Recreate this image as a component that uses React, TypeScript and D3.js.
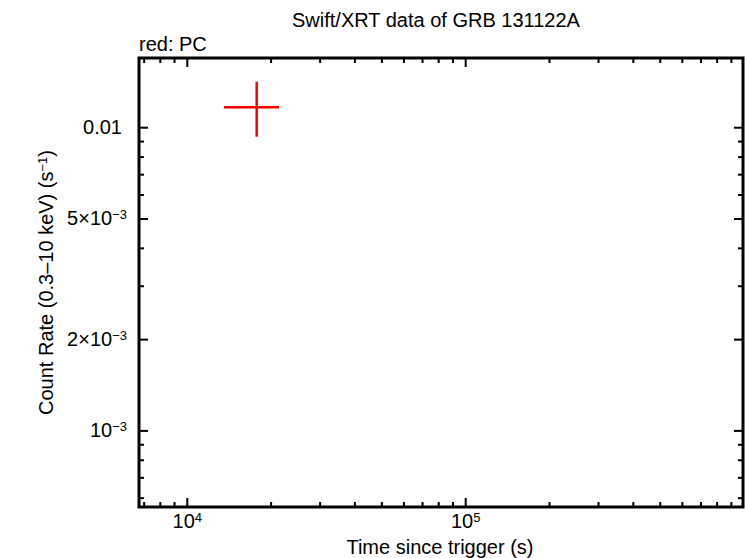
import React from "react";
import * as d3 from "d3";

// Swift/XRT PC-mode point (time in s, rate in counts/s)
const pcTime = [17755];
const pcTimeLow = [13546];
const pcTimeHigh = [21353];
const pcRate = [0.011675];
const pcRateLow = [0.00934];
const pcRateHigh = [0.01418];

const xMajor = [1e4, 1e5];
const xMajorExp = ["4", "5"];
const yMajor = [0.01, 5e-3, 2e-3, 1e-3];
const yMajorMant = ["0.01", "5×10", "2×10", "10"];
const yMajorExp = ["", "−3", "−3", "−3"];

const W = 746;
const H = 558;
const left = 139;
const right = 743;
const top = 58;
const bottom = 507;
const font = "'Liberation Sans', Arial, Helvetica, sans-serif";

const App = () => {
  const x = d3.scaleLog().domain([6708, 991000]).range([left, right]);
  const y = d3.scaleLog().domain([5.61e-4, 0.01698]).range([bottom, top]);

  const xMinor: number[] = [];
  for (let e = 3; e <= 5; e++)
    for (let m = 2; m <= 9; m++) {
      const v = m * Math.pow(10, e);
      if (v >= 6708 && v <= 991000) xMinor.push(v);
    }
  const yMinor: number[] = [];
  for (let e = -4; e <= -2; e++)
    for (let m = 2; m <= 9; m++) {
      const v = m * Math.pow(10, e);
      if (v >= 5.61e-4 && v <= 0.01698 && !yMajor.some((t) => Math.abs(t - v) / v < 1e-6)) yMinor.push(v);
    }

  const major = 9;
  const minor = 5;

  return (
    <div style={{ position: "absolute", left: 0, top: 0 }}>
      <svg width={W} height={H} style={{ display: "block", background: "#fff" }}>
        <text x={436} y={27} textAnchor="middle" fontFamily={font} fontSize={20}>
          Swift/XRT data of GRB 131122A
        </text>
        <text x={139} y={51} fontFamily={font} fontSize={20}>
          red: PC
        </text>

        {/* ticks */}
        <g stroke="#000" strokeWidth={2}>
          {xMajor.map((v) => (
            <g key={"xM" + v}>
              <line x1={x(v)} x2={x(v)} y1={bottom} y2={bottom - major} />
              <line x1={x(v)} x2={x(v)} y1={top} y2={top + major} />
            </g>
          ))}
          {xMinor.map((v) => (
            <g key={"xm" + v}>
              <line x1={x(v)} x2={x(v)} y1={bottom} y2={bottom - minor} />
              <line x1={x(v)} x2={x(v)} y1={top} y2={top + minor} />
            </g>
          ))}
          {yMajor.map((v) => (
            <g key={"yM" + v}>
              <line x1={left} x2={left + major} y1={y(v)} y2={y(v)} />
              <line x1={right} x2={right - major} y1={y(v)} y2={y(v)} />
            </g>
          ))}
          {yMinor.map((v) => (
            <g key={"ym" + v}>
              <line x1={left} x2={left + minor} y1={y(v)} y2={y(v)} />
              <line x1={right} x2={right - minor} y1={y(v)} y2={y(v)} />
            </g>
          ))}
        </g>

        <rect x={left} y={top} width={right - left} height={bottom - top} fill="none" stroke="#000" strokeWidth={3} />

        {/* tick labels */}
        {xMajor.map((v, i) => (
          <text key={"xl" + v} x={x(v)} y={528} textAnchor="middle" fontFamily={font} fontSize={20}>
            10<tspan dy={-6} fontSize={13}>{xMajorExp[i]}</tspan>
          </text>
        ))}
        {yMajor.map((v, i) => (
          <text key={"yl" + v} x={yMajorExp[i] ? 127 : 122} y={y(v) + 6.5} textAnchor="end" fontFamily={font} fontSize={20}>
            {yMajorMant[i]}
            {yMajorExp[i] && <tspan dy={-6} fontSize={13}>{yMajorExp[i]}</tspan>}
          </text>
        ))}

        <text x={440} y={554} textAnchor="middle" fontFamily={font} fontSize={20}>
          Time since trigger (s)
        </text>
        <text transform={`translate(53,${(top + bottom) / 2}) rotate(-90)`} textAnchor="middle" fontFamily={font} fontSize={20}>
          Count Rate (0.3–10 keV) (s<tspan dy={-6} fontSize={13}>−1</tspan><tspan dy={6}>)</tspan>
        </text>

        {/* data */}
        <g stroke="#ff0000" strokeWidth={2.5}>
          {pcTime.map((t, i) => (
            <g key={"pc" + i}>
              <line x1={x(pcTimeLow[i])} x2={x(pcTimeHigh[i])} y1={y(pcRate[i])} y2={y(pcRate[i])} />
              <line x1={x(t)} x2={x(t)} y1={y(pcRateLow[i])} y2={y(pcRateHigh[i])} />
            </g>
          ))}
        </g>
      </svg>
    </div>
  );
};

export default App;
